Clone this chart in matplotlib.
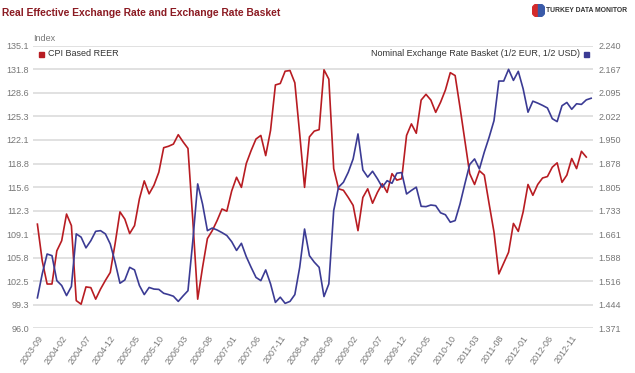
import matplotlib
matplotlib.use("Agg")
import matplotlib.pyplot as plt
import matplotlib.patches as mpatches
import numpy as np
import pandas as pd

plt.rcParams['font.family'] = ['Liberation Sans', 'DejaVu Sans']

# monthly, starting 2003-09
months = pd.date_range("2003-09-01", periods=115, freq="MS").strftime("%Y-%m").tolist()

reer = [110.4, 105.3, 102.1, 102.1, 106.7, 108.1, 111.8, 110.2, 99.8, 99.3,
        101.7, 101.6, 100.0, 101.4, 102.6, 103.7, 107.7, 112.1, 111.1, 109.1,
        110.2, 113.9, 116.4, 114.6, 115.8, 117.6, 121.0, 121.2, 121.5, 122.8,
        121.8, 120.9, 110.9, 100.0, 104.4, 108.4, 109.5, 110.9, 112.5, 112.2,
        115.0, 116.9, 115.5, 118.8, 120.6, 122.2, 122.7, 119.9, 123.4, 129.7,
        129.9, 131.6, 131.7, 130.0, 122.9, 115.5, 122.5, 123.3, 123.5, 131.8,
        130.5, 118.1, 115.3, 115.1, 114.1, 113.0, 109.5, 114.1, 115.3, 113.3,
        114.8, 116.0, 114.8, 117.4, 116.5, 116.7, 122.7, 124.3, 123.0, 127.6,
        128.4, 127.6, 125.9, 127.3, 129.0, 131.4, 131.0, 126.6, 122.0, 117.4,
        115.9, 117.8, 117.2, 113.2, 109.3, 103.5, 105.0, 106.5, 110.5, 109.4,
        112.1, 115.9, 114.4, 115.9, 116.8, 117.0, 118.3, 118.9, 116.2, 117.2,
        119.5, 118.1, 120.5, 119.7]

basket = [1.464, 1.538, 1.599, 1.594, 1.517, 1.502, 1.471, 1.499, 1.661, 1.651,
          1.618, 1.640, 1.669, 1.671, 1.661, 1.630, 1.574, 1.509, 1.519, 1.558,
          1.550, 1.502, 1.474, 1.496, 1.491, 1.490, 1.478, 1.474, 1.469, 1.453,
          1.470, 1.486, 1.640, 1.815, 1.753, 1.671, 1.679, 1.673, 1.665, 1.656,
          1.637, 1.610, 1.632, 1.591, 1.558, 1.527, 1.517, 1.550, 1.507, 1.450,
          1.466, 1.447, 1.453, 1.474, 1.558, 1.676, 1.594, 1.574, 1.558, 1.468,
          1.507, 1.733, 1.805, 1.820, 1.851, 1.892, 1.969, 1.858, 1.836, 1.854,
          1.831, 1.805, 1.825, 1.817, 1.848, 1.850, 1.784, 1.795, 1.805, 1.746,
          1.745, 1.750, 1.748, 1.726, 1.720, 1.697, 1.702, 1.753, 1.815, 1.875,
          1.892, 1.861, 1.913, 1.959, 2.010, 2.132, 2.132, 2.168, 2.134, 2.162,
          2.108, 2.036, 2.070, 2.064, 2.057, 2.049, 2.016, 2.007, 2.056, 2.066,
          2.045, 2.062, 2.060, 2.074, 2.079]

left_labels = ["96.0", "99.3", "102.5", "105.8", "109.1", "112.3", "115.6",
               "118.8", "122.1", "125.3", "128.6", "131.8", "135.1"]
right_labels = ["1.371", "1.444", "1.516", "1.588", "1.661", "1.733", "1.805",
                "1.878", "1.950", "2.022", "2.095", "2.167", "2.240"]

red = '#b81c22'
blue = '#3b3b94'
grey = '#777777'

fig = plt.figure(figsize=(6.35, 3.73), dpi=100)
ax = fig.add_axes([0.052, 0.1206, 0.882, 0.7561])
ax2 = ax.twinx()

ax.plot(np.arange(len(reer)), reer, color=red, linewidth=1.2)
ax2.plot(np.arange(len(basket)), basket, color=blue, linewidth=1.2)

ax.set_xlim(-0.9, 114.4)
ax.set_ylim(96.0, 135.1)
ax2.set_ylim(1.371, 2.240)
ax.set_yticks(np.linspace(96.0, 135.1, 13))
ax.set_yticklabels(left_labels)
ax2.set_yticks(np.linspace(1.371, 2.240, 13))
ax2.set_yticklabels(right_labels)

xt = np.arange(0, len(months) - 4, 5)
ax.set_xticks(xt)
ax.set_xticklabels([months[i] for i in xt], rotation=55, ha='right',
                   rotation_mode='anchor')

ax.grid(axis='y', color='#dedede', linewidth=1.3)
ax.set_axisbelow(True)
for a in (ax, ax2):
    for s in a.spines.values():
        s.set_visible(False)
    a.tick_params(length=0, labelsize=6.5, labelcolor=grey)
ax.tick_params(axis='y', pad=3)
ax.tick_params(axis='x', pad=4)
ax2.tick_params(axis='y', pad=4)

fig.text(0.003, 0.965, "Real Effective Exchange Rate and Exchange Rate Basket",
         color='#8b1a22', fontsize=7.4, fontweight='bold', va='center')
fig.text(0.052, 0.898, "Index", color=grey, fontsize=6.5, va='center')

# legend entries
fig.patches.append(mpatches.Rectangle((0.062, 0.848), 0.008, 0.0135,
                                      transform=fig.transFigure, color=red))
fig.text(0.076, 0.856, "CPI Based REER", fontsize=6.5, color='#333333', va='center')
fig.patches.append(mpatches.Rectangle((0.920, 0.848), 0.008, 0.0135,
                                      transform=fig.transFigure, color=blue))
fig.text(0.913, 0.856, "Nominal Exchange Rate Basket (1/2 EUR, 1/2 USD)",
         fontsize=6.5, color='#333333', va='center', ha='right')

# logo
lax = fig.add_axes([0.836, 0.954, 0.024, 0.036])
lax.add_patch(mpatches.Wedge((0, 0), 1, 90, 270, color='#d42a2a'))
lax.add_patch(mpatches.Wedge((0, 0), 1, -90, 90, color='#3a5aa8'))
lax.set_xlim(-1, 1)
lax.set_ylim(-1, 1)
lax.set_aspect('equal')
lax.axis('off')
fig.text(0.988, 0.972, "TURKEY DATA MONITOR", fontsize=4.9, fontweight='bold',
         color='#333333', ha='right', va='center')

fig.savefig("out.png", dpi=100)
